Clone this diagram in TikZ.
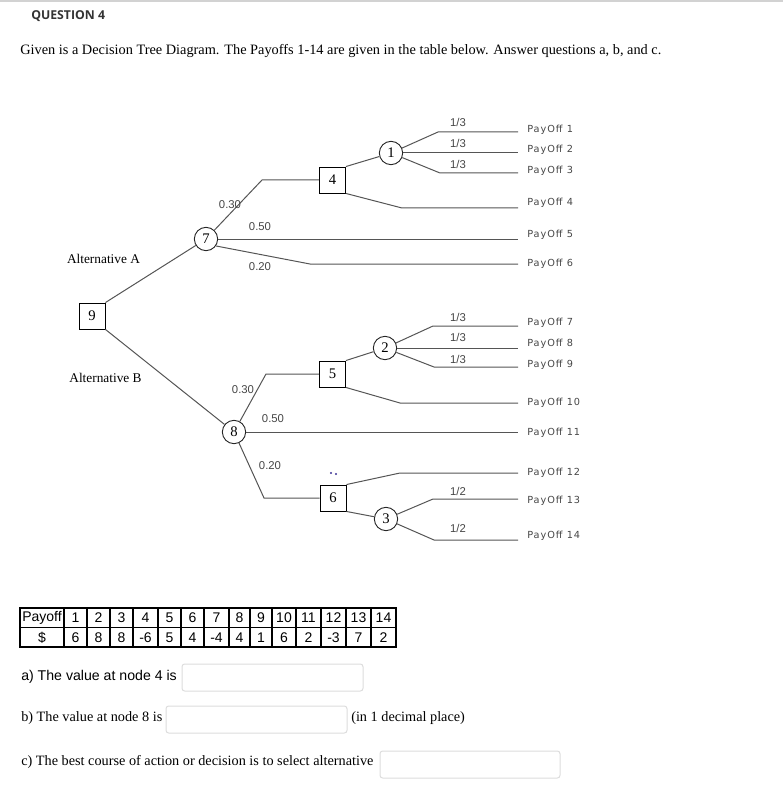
\documentclass[tikz,border=0pt]{standalone}
\usepackage{fontspec}
\setmainfont{Liberation Serif}
\setsansfont{Liberation Sans}
\newfontfamily\headfont{Open Sans}
\newfontfamily\payfont[LetterSpace=10]{DejaVu Sans}
\definecolor{branch}{RGB}{85,85,85}
\definecolor{tagink}{RGB}{70,70,70}
\definecolor{boxline}{RGB}{220,220,220}
\definecolor{ruleg}{RGB}{210,210,210}
\definecolor{blot}{RGB}{60,50,150}

\begin{document}
\begin{tikzpicture}[x=0.75pt, y=-0.75pt,
    dec/.style={draw=black, line width=0.7pt, minimum size=19.5pt,
                inner sep=0pt, font=\fontsize{11}{12}\selectfont},
    chn/.style={circle, draw=black!85, line width=0.7pt, minimum size=17.5pt,
                inner sep=0pt, font=\fontsize{11}{12}\selectfont},
    br/.style={draw=branch, line width=0.75pt},
    prob/.style={font=\sffamily\fontsize{8.5}{10}\selectfont, text=tagink, inner sep=0pt},
    pay/.style={font=\payfont\fontsize{7.3}{8}\selectfont, text=tagink, anchor=west, inner sep=0pt},
    lab/.style={font=\fontsize{10}{12}\selectfont, inner sep=0pt},
    grid/.style={draw=black, line width=1.1pt},
    cell/.style={font=\sffamily\fontsize{10.5}{12}\selectfont, inner sep=0pt},
    ans/.style={draw=boxline, line width=0.75pt, rounded corners=2pt},
    qtxt/.style={anchor=west, inner sep=0pt, font=\fontsize{10.7}{12}\selectfont}]
  \useasboundingbox (0,0) rectangle (783,809);
  \draw[ruleg, line width=1.5pt] (0,1) -- (783,1);

  % heading
  \node[anchor=west, inner sep=0pt, text=black!80,
        font=\headfont\bfseries\fontsize{9.2}{10}\selectfont] (qhead) at (31,16) {QUESTION 4};
  \node[qtxt, font=\fontsize{10.75}{13}\selectfont] (intro) at (20,51)
    {Given is a Decision Tree Diagram. The Payoffs 1-14 are given in the table below. Answer questions a, b, and c.};

  % decision (square) and chance (circle) nodes
  \node[dec] (n9) at (92,316) {9};
  \node[chn] (n7) at (206,239) {7};
  \node[chn] (n8) at (234,432) {8};
  \node[dec] (n4) at (332.5,180) {4};
  \node[dec] (n5) at (332.5,374) {5};
  \node[dec] (n6) at (333,498) {6};
  \node[chn] (n1) at (391,153) {1};
  \node[chn] (n2) at (385,348) {2};
  \node[chn] (n3) at (386,519) {3};

  \node[lab] (altA) at (103.5,259) {Alternative A};
  \node[lab] (altB) at (105.5,378) {Alternative B};

  % elbows
  \coordinate (b1) at (262,180);  \coordinate (b2) at (310,264);
  \coordinate (b4) at (266,374);  \coordinate (b5) at (264,498);
  \coordinate (c1) at (438,132);  \coordinate (c3) at (440,173);
  \coordinate (c4) at (402,208);
  \coordinate (c7) at (433,326);  \coordinate (c9) at (434,367);
  \coordinate (c10) at (400,403); \coordinate (c12) at (400,473);
  \coordinate (c13) at (433,499); \coordinate (c14) at (434,540);
  % loose ends and payoff tags
  \foreach \k/\y in {1/132,2/153,3/173,4/208,5/239,6/264,7/326,8/348,
                     9/367,10/403,11/432,12/473,13/499,14/540}
    { \coordinate (e\k) at (518,\y); }
  \foreach \k/\y in {1/130,2/150,3/171,4/203,5/235,6/264,7/323,8/344,
                     9/365,10/403,11/433,12/473,13/501,14/536}
    { \node[pay] (p\k) at (527,\y) {PayOff \k}; }

  % branches
  \draw[br] (n9.north east) -- (n7);
  \draw[br] (n9.south east) -- (n8);
  \draw[br] (n7) -- (b1) -- (n4);
  \draw[br] (n7.east) -- (e5);
  \draw[br] (n7.-35) -- (b2) -- (e6);
  \draw[br] (n4.north east) -- (n1);
  \draw[br] (n4.south east) -- (c4) -- (e4);
  \draw[br] (n1) -- (c1) -- (e1);
  \draw[br] (n1.east) -- (e2);
  \draw[br] (n1) -- (c3) -- (e3);
  \draw[br] (n8) -- (b4) -- (n5);
  \draw[br] (n8.east) -- (e11);
  \draw[br] (n8) -- (b5) -- (n6);
  \draw[br] (n5.north east) -- (n2);
  \draw[br] (n5.south east) -- (c10) -- (e10);
  \draw[br] (n2) -- (c7) -- (e7);
  \draw[br] (n2.east) -- (e8);
  \draw[br] (n2) -- (c9) -- (e9);
  \draw[br] (n6.north east) -- (c12) -- (e12);
  \draw[br] (n6.south east) -- (n3);
  \draw[br] (n3) -- (c13) -- (e13);
  \draw[br] (n3) -- (c14) -- (e14);

  % probabilities
  \node[prob] (pa1) at (230,205) {0.30};
  \node[prob] (pa2) at (260,227) {0.50};
  \node[prob] (pa3) at (260,267) {0.20};
  \node[prob] (pb1) at (243,390) {0.30};
  \node[prob] (pb2) at (273,419) {0.50};
  \node[prob] (pb3) at (270,466) {0.20};
  \foreach \y [count=\i] in {122,143,164} { \node[prob] (r\i) at (458,\y) {1/3}; }
  \foreach \y [count=\i] in {317,337,359} { \node[prob] (s\i) at (458,\y) {1/3}; }
  \node[prob] (t1) at (458,491) {1/2};
  \node[prob] (t2) at (458,528) {1/2};
  \fill[blot] (331,473) circle (1.1);
  \fill[blot] (336,474) circle (1.1);

  % payoff table
  \draw[grid] (20,608) rectangle (64,647);
  \draw[grid] (20,627.5) -- (64,627.5);
  \node[cell] (hp) at (42,618) {Payoff};
  \node[cell] (vp) at (42,637.5) {\$};
  \foreach \k/\v/\xl/\xr in {1/6/64/87, 2/8/87/110, 3/8/110/133, 4/-6/133/158,
      5/5/158/181, 6/4/181/204, 7/-4/204/229, 8/4/229/250, 9/1/250/272,
      10/6/272/296, 11/2/296/321, 12/-3/321/346, 13/7/346/371, 14/2/371/396} {
    \draw[grid] (\xl,608) rectangle (\xr,647);
    \draw[grid] (\xl,627.5) -- (\xr,627.5);
    \node[cell] (h\k) at ({(\xl+\xr)/2},618) {\k};
    \node[cell] (v\k) at ({(\xl+\xr)/2},637.5) {\v};
  }

  % questions
  \node[qtxt, font=\sffamily\fontsize{10.6}{12}\selectfont] (qa) at (21,677) {a) The value at node 4 is};
  \draw[ans] (182,664) rectangle (363,691);
  \node[qtxt] (qb) at (21,718) {b) The value at node 8 is};
  \draw[ans] (166,706) rectangle (347,733);
  \node[qtxt] (qbn) at (351,718) {(in 1 decimal place)};
  \node[qtxt] (qc) at (21,762) {c) The best course of action or decision is to select alternative};
  \draw[ans] (380,751) rectangle (560,778);
\end{tikzpicture}
\end{document}
